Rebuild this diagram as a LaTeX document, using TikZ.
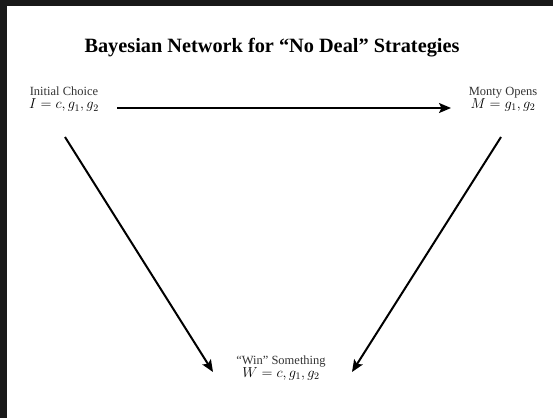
\documentclass[tikz,border=0pt]{standalone}
\usepackage{fontspec}
\setmainfont{Liberation Serif}
\usetikzlibrary{arrows.meta}
\begin{document}
\begin{tikzpicture}[x=1pt,y=-1pt,
  frame/.style={fill=black!90,draw=none},
  varlabel/.style={align=center,inner sep=0pt,text=black!80,font=\fontsize{12.5}{13}\selectfont},
  varmath/.style={},
  link/.style={line width=2pt,-{Stealth[length=12pt,width=10pt,inset=2.5pt]}}]
  % page with dark edges on top and left
  \useasboundingbox (0,0) rectangle (553,418);
  \fill[white] (0,0) rectangle (553,418);
  \fill[frame] (0,0) rectangle (553,6);
  \fill[frame] (0,0) rectangle (7,418);

  % title
  \node[font=\bfseries\fontsize{20.3}{23}\selectfont,anchor=base] (title) at (272,52)
    {Bayesian Network for “No Deal” Strategies};

  % variables
  \newcommand{\varval}[1]{{\color{black}\fontsize{14.5}{14}\selectfont$#1$}}
  \node[varlabel] (I) at (64,99.5) {Initial Choice\\[0pt] \varval{I = c, g_1, g_2}};
  \node[varlabel] (M) at (503,99.5) {Monty Opens\\[0pt] \varval{M = g_1, g_2}};
  \node[varlabel] (W) at (281,368) {“Win” Something\\[0pt] \varval{W = c, g_1, g_2}};

  % arrow end points
  \coordinate (IMs) at (117,108);
  \coordinate (IMe) at (451,108);
  \coordinate (IWs) at (65,137);
  \coordinate (IWe) at (213,372);
  \coordinate (MWs) at (501,137);
  \coordinate (MWe) at (352,372);

  \draw[link] (IMs) -- (IMe);
  \draw[link] (IWs) -- (IWe);
  \draw[link] (MWs) -- (MWe);
\end{tikzpicture}
\end{document}
